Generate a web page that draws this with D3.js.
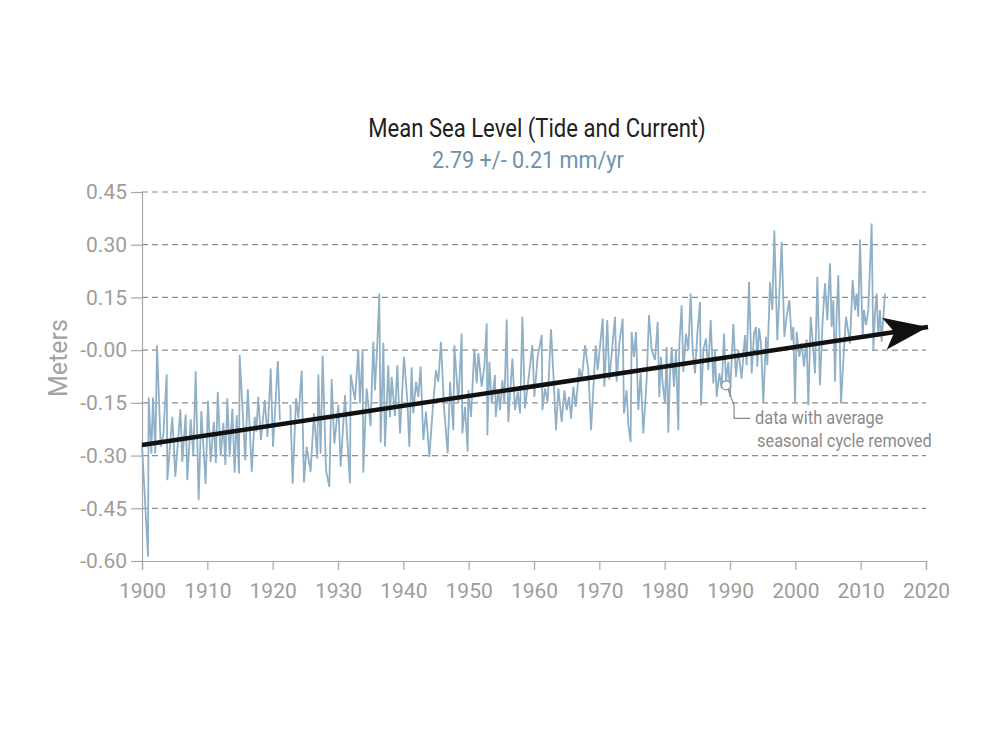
<!DOCTYPE html>
<html>
<head>
<meta charset="utf-8">
<script src="https://cdn.jsdelivr.net/npm/d3@7"></script>
<style>
body { margin: 0; background: #fff; }
text { font-family: Roboto, "Liberation Sans", sans-serif; }
</style>
</head>
<body>
<div class="chart"></div>
<script>
// monthly mean sea level, seasonal cycle removed
const years = [
  1900.0, 1900.92, 1901.02, 1901.43, 1901.68, 1902.04, 1902.3, 1902.86, 1903.27, 1903.78, 1903.88, 1904.64,
  1905.1, 1905.87, 1906.17, 1906.68, 1906.94, 1907.45, 1907.86, 1908.22, 1908.67, 1909.08, 1909.74, 1910.1,
  1910.5, 1911.0, 1911.3, 1911.6, 1912.04, 1912.45, 1912.76, 1913.06, 1913.42, 1913.83, 1914.18, 1914.49,
  1914.85, 1914.95, 1915.8, 1916.2, 1916.8, 1917.25, 1917.5, 1917.8, 1918.2, 1918.8, 1919.2, 1919.7,
  1920.05, 1920.8, 1921.1, 1921.8,
  1922.7, 1923.06, 1923.57, 1923.93, 1924.44, 1924.79, 1925.2, 1925.81, 1926.32, 1926.83, 1926.99, 1927.34,
  1927.65, 1928.16, 1928.67, 1929.03, 1929.44, 1930.05, 1930.41, 1931.07, 1931.43, 1931.83, 1931.94, 1932.6,
  1933.11, 1933.36, 1933.77, 1933.87, 1934.38, 1934.99, 1935.4, 1935.66, 1936.02, 1936.32, 1936.53, 1936.94,
  1937.19, 1937.7, 1937.96, 1938.21, 1938.72, 1939.08, 1939.49, 1940.1, 1940.61, 1940.92, 1941.27, 1941.53,
  1941.94, 1942.29, 1942.65, 1943.06, 1943.47, 1943.98, 1944.49, 1945.0, 1945.35, 1945.76, 1946.22,
  1946.79, 1947.15, 1947.66, 1947.81, 1948.42, 1948.93, 1949.03, 1949.44, 1949.85, 1949.95, 1950.36, 1950.87,
  1951.23, 1951.48, 1951.99, 1952.4, 1952.76, 1952.86, 1953.17, 1953.52, 1954.03, 1954.14, 1954.54, 1954.8,
  1955.16, 1955.46, 1955.82, 1956.07, 1956.69, 1957.09, 1957.5, 1957.86, 1958.22, 1958.62, 1959.14, 1959.75,
  1960.05, 1960.56, 1961.18, 1961.28, 1961.69, 1962.09, 1962.6, 1962.96, 1963.37, 1963.73, 1964.24, 1964.65,
  1965.0, 1965.36, 1965.67, 1966.02, 1966.38, 1966.94, 1967.3, 1967.81, 1968.32, 1968.73, 1969.44, 1969.75,
  1970.51, 1970.77,
  1971.22, 1971.53, 1972.4, 1972.65, 1973.06, 1973.57, 1973.77, 1974.18, 1974.44, 1974.79, 1974.95, 1975.3,
  1975.61, 1975.97, 1976.32, 1976.73, 1977.24, 1977.6, 1978.01, 1978.52, 1978.93, 1979.18, 1979.44, 1979.69,
  1980.05, 1980.3, 1980.56, 1980.81, 1981.07, 1981.43, 1981.73, 1982.09, 1982.24, 1982.6, 1982.86, 1983.26,
  1983.62, 1983.98, 1984.28, 1984.64, 1985.0, 1985.41, 1985.56, 1985.92, 1986.32, 1986.68, 1987.04, 1987.45,
  1987.7, 1987.96, 1988.37, 1988.72, 1989.08, 1989.39, 1989.74, 1990.0, 1990.51, 1990.92, 1991.27, 1991.78,
  1992.29, 1992.55, 1992.91,
  1993.32, 1993.67, 1993.98, 1994.18, 1994.44, 1994.74, 1995.1, 1995.51, 1995.71, 1996.12, 1996.48, 1996.78,
  1997.24, 1997.91, 1998.32, 1998.67, 1999.08, 1999.44, 1999.69, 1999.95, 2000.2, 2000.61, 2000.97, 2001.33,
  2001.73, 2001.99, 2002.35, 2002.65, 2003.01, 2003.37, 2003.77, 2004.18, 2004.54, 2004.9, 2005.31, 2005.56,
  2005.82, 2006.07, 2006.33, 2006.58, 2006.99, 2007.35, 2007.75, 2008.37, 2008.77, 2009.13, 2009.39, 2009.64,
  2009.9, 2010.31, 2010.51, 2010.82, 2011.17, 2011.68, 2011.94, 2012.19, 2012.45, 2012.7, 2012.96, 2013.21,
  2013.72
]
const level = [
  -0.27, -0.588, -0.135, -0.294, -0.135, -0.294, 0.014, -0.275, -0.24, -0.069, -0.37, -0.19,
  -0.36, -0.168, -0.318, -0.183, -0.37, -0.197, -0.30, -0.06, -0.427, -0.173, -0.381, -0.145,
  -0.318, -0.204, -0.321, -0.119, -0.302, -0.207, -0.327, -0.137, -0.304, -0.167, -0.349, -0.185,
  -0.351, -0.014, -0.313, -0.111, -0.346, -0.19, -0.232, -0.133, -0.256, -0.142, -0.247, -0.052,
  -0.275, -0.031, -0.20, null,
  -0.156, -0.38, -0.137, -0.194, -0.059, -0.376, -0.275, -0.346, -0.18, -0.308, -0.069, -0.294,
  -0.015, -0.341, -0.389, -0.082, -0.266, -0.156, -0.332, -0.128, -0.256, -0.379, -0.069, -0.142,
  0.002, -0.151, 0.002, -0.349, -0.109, -0.216, 0.024, -0.114, 0.021, 0.161, -0.263, 0.021,
  -0.275, -0.043, -0.19, -0.076, -0.188, -0.043, -0.237, -0.019, -0.142, -0.275, -0.049, -0.18,
  -0.09, -0.133, -0.047, -0.256, -0.175, -0.304, -0.17, -0.057, -0.09, 0.024, -0.161,
  -0.294, -0.09, -0.228, 0.014, -0.152, 0.047, -0.237, -0.161, -0.289, -0.114, -0.19, 0.004,
  -0.095, -0.009, -0.104, -0.047, 0.076, -0.242, -0.033, -0.152, -0.071, -0.19, -0.114, -0.171,
  -0.085, -0.152, 0.087, -0.204, -0.024, -0.171, -0.118, -0.18, 0.095, -0.166, -0.085, 0.014,
  -0.133, -0.019, 0.043, -0.171, -0.109, -0.147, 0.059, -0.066, -0.228, -0.109, -0.204, -0.114,
  -0.171, -0.133, -0.195, -0.104, -0.161, -0.052, -0.085, 0.014, -0.057, -0.228, 0.014, -0.057,
  0.09, -0.104,
  0.086, -0.085, 0.095, -0.09, 0.019, 0.09, -0.18, -0.114, -0.213, -0.261, 0.052, -0.019,
  0.052, -0.171, -0.066, -0.237, -0.085, 0.1, 0.0, -0.028, 0.081, -0.133, -0.019, -0.095,
  -0.152, 0.009, -0.235, -0.071, 0.009, -0.104, 0.0, -0.228, 0.014, 0.128, -0.062, 0.047,
  0.0, 0.161, 0.0, -0.066, 0.047, 0.137, -0.157, 0.0, 0.033, -0.057, 0.086, -0.095,
  0.0, -0.133, -0.066, -0.109, 0.047, -0.09, -0.033, -0.133, 0.074, -0.076, 0.0, -0.081,
  0.043, -0.043, 0.194,
  -0.066, 0.047, 0.066, -0.047, 0.062, 0.02, -0.15, 0.038, -0.043, 0.194, 0.114, 0.341,
  0.028, 0.308, 0.038, 0.095, 0.142, 0.028, 0.066, -0.152, 0.052, -0.019, 0.02, -0.047,
  0.03, -0.157, 0.095, 0.028, -0.066, 0.209, -0.1, 0.085, 0.19, 0.085, 0.247, 0.066,
  0.142, -0.09, 0.104, 0.213, -0.152, -0.028, 0.095, 0.019, 0.2, 0.114, 0.161, 0.095,
  0.315, 0.038, 0.114, 0.071, 0.114, 0.36, 0.0, 0.104, 0.161, 0.038, 0.114, 0.024,
  0.161
]

const yTicks = [-0.60, -0.45, -0.30, -0.15, 0, 0.15, 0.30, 0.45]
const yTickLabels = ['-0.60', '-0.45', '-0.30', '-0.15', '-0.00', '0.15', '0.30', '0.45']
const xTicks = [1900, 1910, 1920, 1930, 1940, 1950, 1960, 1970, 1980, 1990, 2000, 2010, 2020]

// linear trend: 2.79 mm/yr
const trendStartYear = 1900
const trendEndYear = 2020.3
const trendStartLevel = -0.27
const trendRate = 0.00279

const noteYear = 1989.4
const noteLevel = -0.1
const noteLines = ['data with average', 'seasonal cycle removed']

const width = 1000
const height = 750

const svg = d3.select('.chart').append('svg').attr('width', width).attr('height', height)

const x = d3.scaleLinear().domain([1900, 2020]).range([142, 926])
const y = d3.scaleLinear().domain([-0.60, 0.45]).range([561, 192])

const axisGray = '#a7a7a7'
const labelGray = '#9d9d9d'

// condensed text: the original uses a narrow face, so squeeze horizontally
function narrowText(tx, ty, sx, txt) {
    return svg.append('g')
        .attr('transform', `translate(${tx},${ty}) scale(${sx},1)`)
        .append('text')
        .text(txt)
}

// dashed grid
svg.selectAll('line.grid')
    .data(yTicks.filter(d => d > -0.6))
    .enter()
    .append('line')
    .attr('class', 'grid')
    .attr('x1', x(1900))
    .attr('x2', x(2020))
    .attr('y1', d => y(d))
    .attr('y2', d => y(d))
    .attr('stroke', '#8c8c8c')
    .attr('stroke-width', 1.2)
    .attr('stroke-dasharray', '6,4')

// axes
svg.append('g')
    .attr('transform', `translate(${x(1900)},0)`)
    .call(d3.axisLeft(y).tickValues(yTicks).tickSize(11).tickPadding(4)
        .tickFormat((d, i) => yTickLabels[i]))
svg.append('g')
    .attr('transform', `translate(0,${y(-0.60)})`)
    .call(d3.axisBottom(x).tickValues(xTicks).tickSize(9).tickPadding(13).tickFormat(d3.format('d')))

svg.selectAll('.domain, .tick line').attr('stroke', axisGray).attr('stroke-width', 1.2)
svg.selectAll('.tick text')
    .attr('fill', labelGray)
    .attr('font-size', 21)
    .style('font-family', 'Roboto, sans-serif')

// sea level line
const line = d3.line()
    .defined(d => d[1] !== null)
    .x(d => x(d[0]))
    .y(d => y(d[1]))

svg.append('path')
    .datum(years.map((d, i) => [d, level[i]]))
    .attr('d', line)
    .attr('fill', 'none')
    .attr('stroke', '#8fb0c6')
    .attr('stroke-width', 1.8)

// trend arrow
svg.append('defs').append('marker')
    .attr('id', 'head')
    .attr('markerUnits', 'userSpaceOnUse')
    .attr('viewBox', '0 -17 46 34')
    .attr('refX', 44)
    .attr('refY', 0)
    .attr('markerWidth', 46)
    .attr('markerHeight', 34)
    .attr('orient', 'auto')
    .append('path')
    .attr('d', 'M0,-16L44,0L0,16L10,0Z')
    .attr('fill', '#111')

svg.append('line')
    .attr('x1', x(trendStartYear))
    .attr('y1', y(trendStartLevel))
    .attr('x2', x(trendEndYear))
    .attr('y2', y(trendStartLevel + trendRate * (trendEndYear - trendStartYear)))
    .attr('stroke', '#111')
    .attr('stroke-width', 4.5)
    .attr('marker-end', 'url(#head)')

// annotation
const nx = x(noteYear)
const ny = y(noteLevel)
svg.append('path')
    .attr('d', `M${nx + 2},${ny + 4} L${nx + 8},${ny + 20} L${nx + 8},${ny + 33} L${nx + 24},${ny + 33}`)
    .attr('fill', 'none')
    .attr('stroke', '#8a8a8a')
    .attr('stroke-width', 1.2)
svg.append('circle')
    .attr('cx', nx)
    .attr('cy', ny)
    .attr('r', 4.5)
    .attr('fill', '#fff')
    .attr('stroke', '#8a8a8a')
    .attr('stroke-width', 1.2)
noteLines.forEach((d, i) => {
    narrowText(nx + 29 + i * 2, ny + 39 + i * 23, 0.91, d)
        .attr('font-size', 18)
        .attr('fill', '#8a8a8a')
})

// titles
narrowText(537, 137, 0.85, 'Mean Sea Level (Tide and Current)')
    .attr('text-anchor', 'middle')
    .attr('font-size', 26)
    .attr('fill', '#231f20')
narrowText(528, 168, 0.9, '2.79 +/- 0.21 mm/yr')
    .attr('text-anchor', 'middle')
    .attr('font-size', 24)
    .attr('fill', '#6b93ad')

svg.append('text')
    .attr('transform', 'translate(67,358) rotate(-90)')
    .attr('text-anchor', 'middle')
    .attr('font-size', 25)
    .attr('fill', '#a3a3a3')
    .text('Meters')
</script>
</body>
</html>
